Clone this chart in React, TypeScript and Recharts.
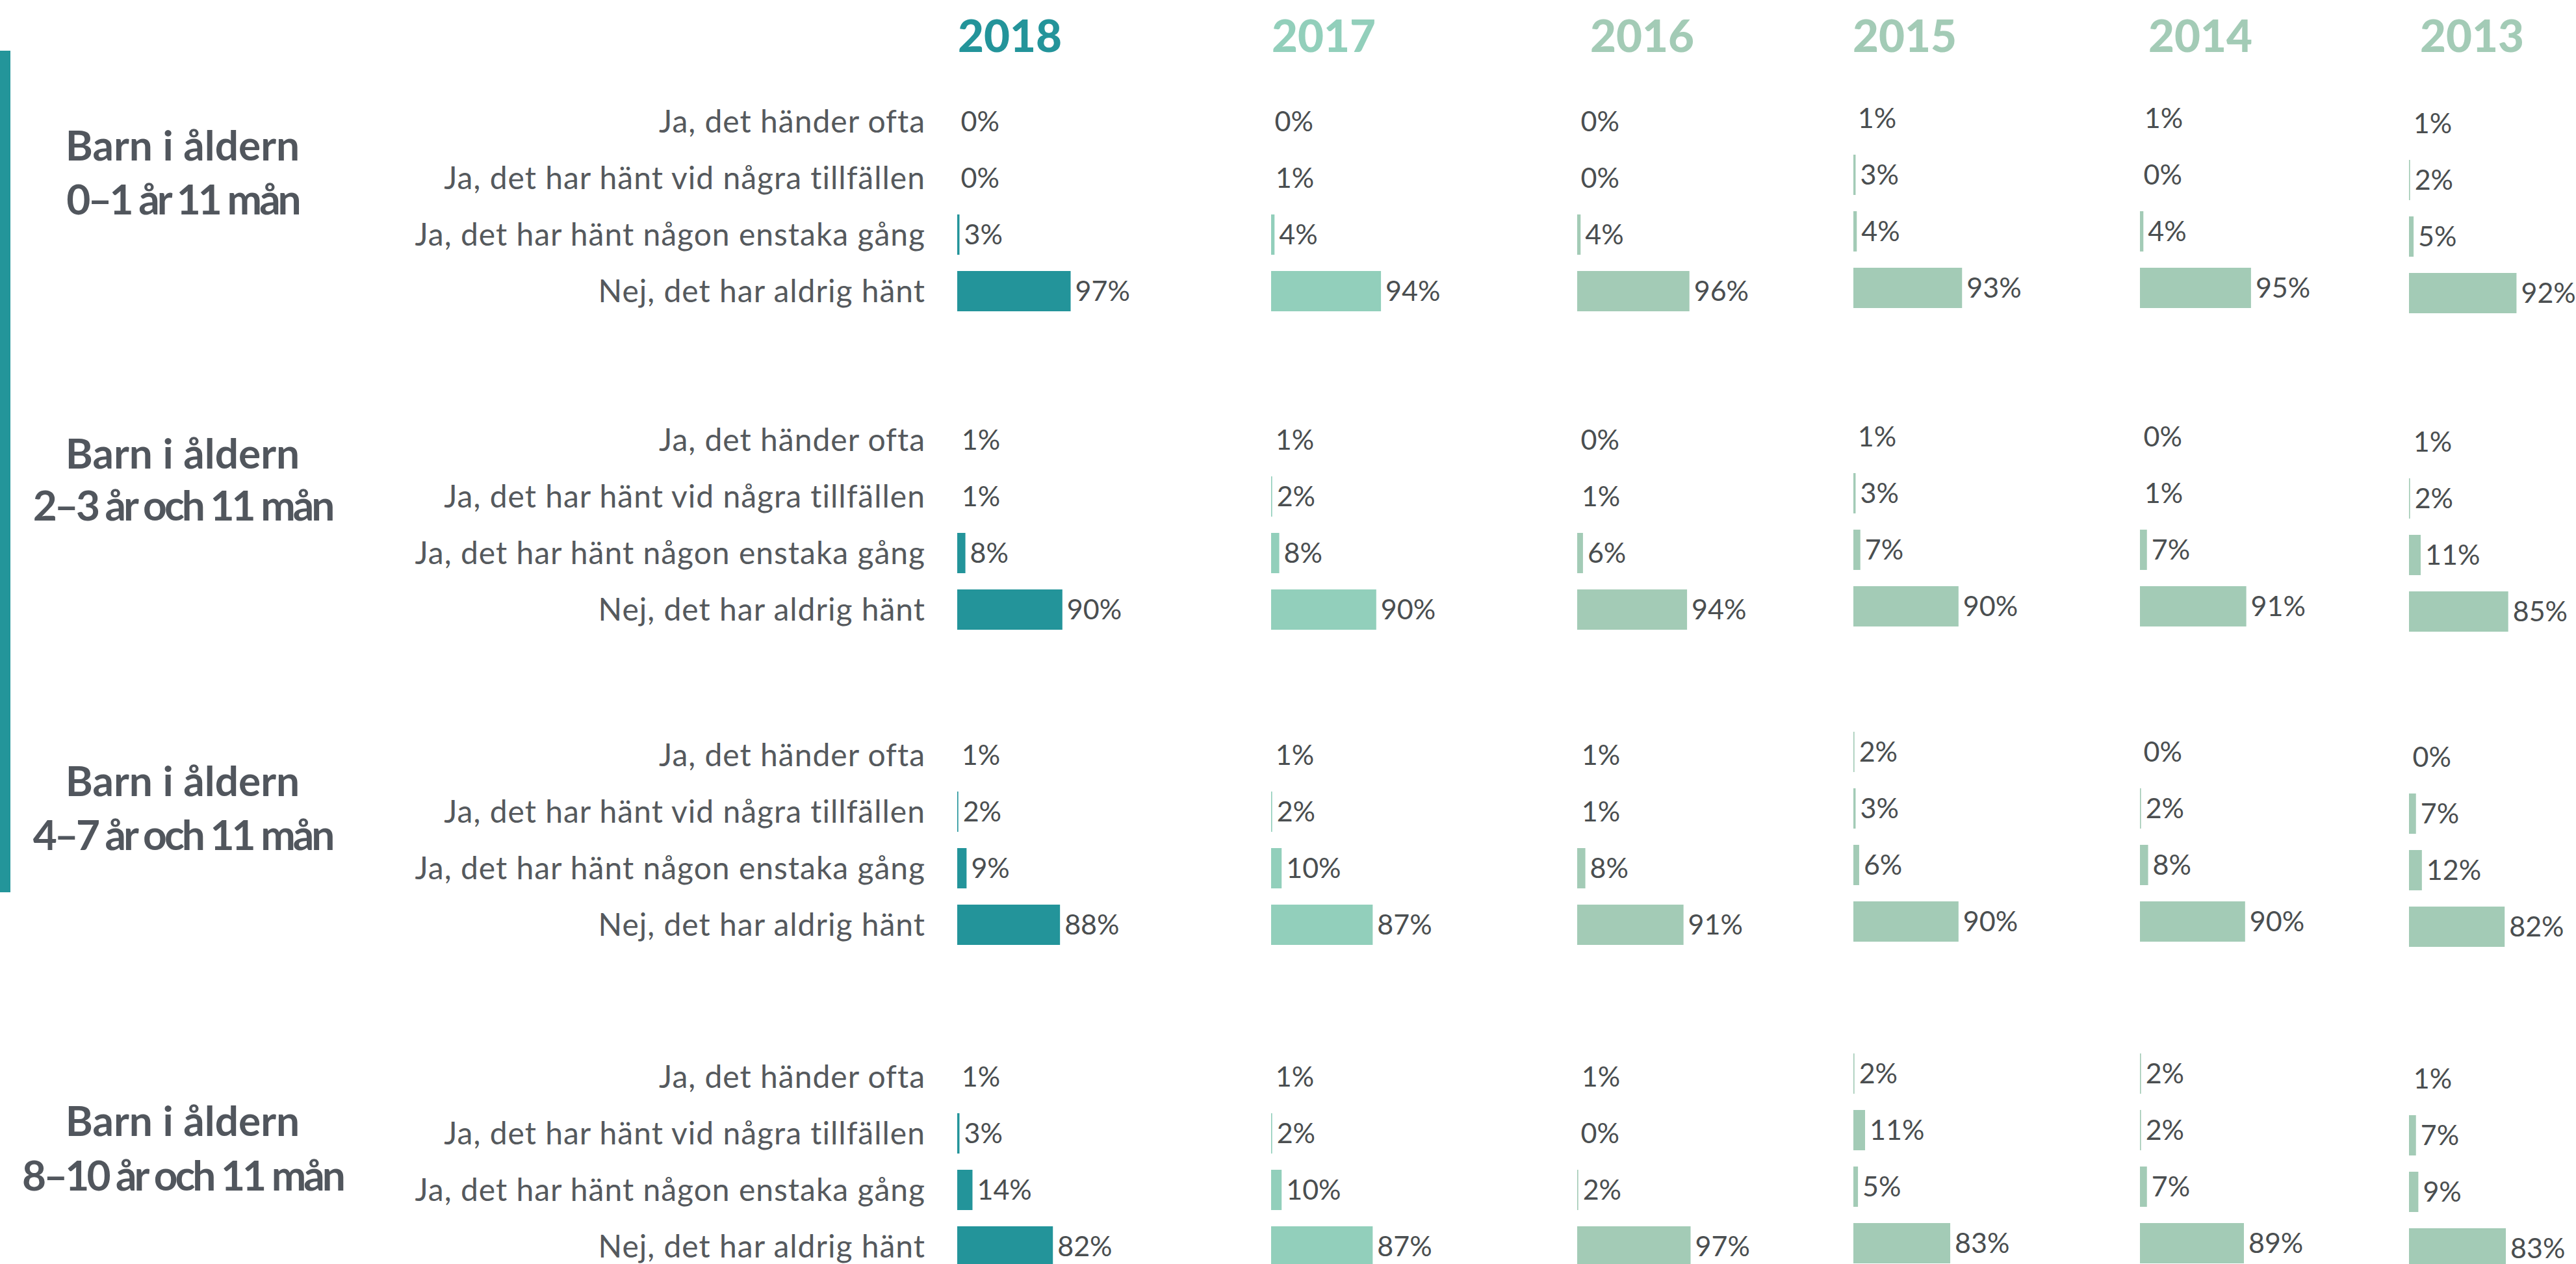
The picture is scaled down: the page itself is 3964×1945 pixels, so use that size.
import React from 'react';
import { BarChart, Bar, XAxis, YAxis, LabelList } from 'recharts';

const years = ['2018', '2017', '2016', '2015', '2014', '2013'];

const answers = [
  'Ja, det händer ofta',
  'Ja, det har hänt vid några tillfällen',
  'Ja, det har hänt någon enstaka gång',
  'Nej, det har aldrig hänt',
];

const groupTitles = [
  ['Barn i åldern', '0–1 år 11 mån'],
  ['Barn i åldern', '2–3 år och 11 mån'],
  ['Barn i åldern', '4–7 år och 11 mån'],
  ['Barn i åldern', '8–10 år och 11 mån'],
];

// one row per year (2018 -> 2013), values in answer order
const values0to1 = [
  [0, 0, 3, 97],
  [0, 1, 4, 94],
  [0, 0, 4, 96],
  [1, 3, 4, 93],
  [1, 0, 4, 95],
  [1, 2, 5, 92],
];

const values2to3 = [
  [1, 1, 8, 90],
  [1, 2, 8, 90],
  [0, 1, 6, 94],
  [1, 3, 7, 90],
  [0, 1, 7, 91],
  [1, 2, 11, 85],
];

const values4to7 = [
  [1, 2, 9, 88],
  [1, 2, 10, 87],
  [1, 1, 8, 91],
  [2, 3, 6, 90],
  [0, 2, 8, 90],
  [0, 7, 12, 82],
];

const values8to10 = [
  [1, 3, 14, 82],
  [1, 2, 10, 87],
  [1, 0, 2, 97],
  [2, 11, 5, 83],
  [2, 2, 7, 89],
  [1, 7, 9, 83],
];

const groupValues = [values0to1, values2to3, values4to7, values8to10];

// layout
const FONT = "Lato, 'Open Sans', sans-serif";
const yearColors = ['#23949a', '#92cfbb', '#a3cbb6', '#a3cbb6', '#a3cbb6', '#a3cbb6'];
const barLeft = [1472, 1955, 2426, 2851, 3292, 3706];
const headerLeft = [1474, 1957, 2447, 2851, 3306, 3724];
const yearShift = [0, 0, 0, -5, -5, 3];
const groupTop = [142.5, 632.5, 1118, 1612.5];
const titleBaselines = [
  [247, 330],
  [721, 801],
  [1225, 1308],
  [1748, 1832],
];
const PLOT_W = 182;
const ROW_H = 87;
const LABEL_W = 872;
const RIGHT_PAD = 150;

const AnswerTick = (props: any) => {
  const { x, y, payload } = props;
  return (
    <text
      x={x}
      y={y}
      dy="0.36em"
      textAnchor="end"
      fill="#55595d"
      fontSize={48}
      letterSpacing={1}
      fontFamily={FONT}
    >
      {payload.value}
    </text>
  );
};

const Cell = ({ group, yi }: { group: number; yi: number }) => {
  const data = answers.map((answer, i) => ({
    answer,
    value: groupValues[group][yi][i],
  }));
  const withAxis = yi === 0;
  const left = withAxis ? barLeft[yi] - LABEL_W : barLeft[yi];
  const width = (withAxis ? LABEL_W : 0) + PLOT_W + RIGHT_PAD;

  return (
    <div
      style={{
        position: 'absolute',
        left,
        top: groupTop[group] + yearShift[yi],
      }}
    >
      <BarChart
        width={width}
        height={ROW_H * 4}
        data={data}
        layout="vertical"
        margin={{ top: 0, right: RIGHT_PAD, bottom: 0, left: 0 }}
      >
        <XAxis type="number" domain={[0, 100]} hide />
        <YAxis
          type="category"
          dataKey="answer"
          hide={!withAxis}
          width={withAxis ? LABEL_W : 0}
          axisLine={false}
          tickLine={false}
          tickSize={0}
          tickMargin={48}
          tick={<AnswerTick />}
          interval={0}
        />
        <Bar
          dataKey="value"
          fill={yearColors[yi]}
          stroke="#ffffff"
          strokeWidth={2}
          barSize={64}
          minPointSize={0.5}
          isAnimationActive={false}
        >
          <LabelList
            dataKey="value"
            position="right"
            offset={6}
            formatter={(v: any) => `${v}%`}
            fill="#4a4e50"
            fontSize={43}
            fontFamily={FONT}
          />
        </Bar>
      </BarChart>
    </div>
  );
};

export default function App() {
  return (
    <div
      style={{
        position: 'absolute',
        left: 0,
        top: 0,
        width: 3964,
        height: 1945,
        background: '#ffffff',
        overflow: 'hidden',
        fontFamily: FONT,
      }}
    >
      <svg
        width={3964}
        height={1945}
        style={{ position: 'absolute', left: 0, top: 0 }}
      >
        <rect x={0} y={78} width={16} height={1295} fill="#23959a" />
        {years.map((y, i) => (
          <text
            key={y}
            x={headerLeft[i]}
            y={80}
            fill={yearColors[i]}
            fontSize={69}
            fontWeight={900}
            fontFamily={FONT}
          >
            {y}
          </text>
        ))}
        {groupTitles.map((lines, g) =>
          lines.map((line, li) => (
            <text
              key={`${g}-${li}`}
              x={281}
              y={titleBaselines[g][li]}
              textAnchor="middle"
              fill="#51565d"
              fontSize={64}
              fontWeight={700}
              letterSpacing={li === 1 ? -4 : 0}
              fontFamily={FONT}
            >
              {line}
            </text>
          ))
        )}
      </svg>
      {groupTitles.map((_, g) =>
        years.map((y, yi) => <Cell key={`${g}-${y}`} group={g} yi={yi} />)
      )}
    </div>
  );
}
